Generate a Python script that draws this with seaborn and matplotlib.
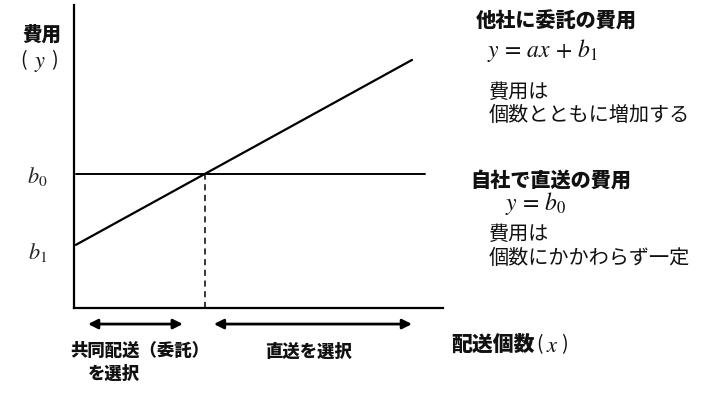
import numpy as np
import pandas as pd
import matplotlib
matplotlib.use("Agg")
import matplotlib.pyplot as plt
import seaborn as sns

# model of the two cost lines (arbitrary units)
slope_a = 0.67
b0 = 4.42
b1 = 2.05
x_commission = [0.05, 9.16]   # 他社に委託: y = ax + b1
x_direct = [0.05, 9.51]       # 自社で直送: y = b0

# choice ranges under the x-axis
left_range = [0.38, 2.95]
right_range = [3.79, 9.16]

sns.set_theme(style="white")
plt.rcParams['font.family'] = ['Noto Sans CJK JP', 'DejaVu Sans']
plt.rcParams['mathtext.fontset'] = 'stix'

commission = pd.DataFrame({'x': x_commission,
                           'y': [slope_a * v + b1 for v in x_commission]})
direct = pd.DataFrame({'x': x_direct, 'y': [b0, b0]})
x_cross = (b0 - b1) / slope_a

W, H = 710, 401
fig = plt.figure(figsize=(W / 100, H / 100), dpi=100)
ax = fig.add_axes([74 / W, 93 / H, 369 / W, 303 / H])

sns.lineplot(data=commission, x='x', y='y', ax=ax, color='black', linewidth=1.6)
sns.lineplot(data=direct, x='x', y='y', ax=ax, color='black', linewidth=1.4)
ax.plot([x_cross, x_cross], [0, b0], color='black', linewidth=1.1, linestyle=(0, (4, 3)))

ax.set_xlim(0, 10)
ax.set_ylim(0, 10)
ax.set_xlabel('')
ax.set_ylabel('')
ax.set_xticks([])
ax.set_yticks([b0, b1 - 0.15])
ax.set_yticklabels(['$b_0$', '$b_1$'], fontsize=16)
ax.tick_params(axis='y', length=0, pad=19)
for side in ['top', 'right']:
    ax.spines[side].set_visible(False)
for side in ['left', 'bottom']:
    ax.spines[side].set_color('black')
    ax.spines[side].set_linewidth(1.6)

# double arrows below the x-axis
trans = ax.get_xaxis_transform()
for rng in [left_range, right_range]:
    ax.annotate('', xy=(rng[0], -0.053), xytext=(rng[1], -0.053), xycoords=trans,
                textcoords=trans, annotation_clip=False,
                arrowprops=dict(arrowstyle='<|-|>', color='black', lw=2,
                                mutation_scale=14, shrinkA=0, shrinkB=0))


def ftext(px, py, s, **kw):
    fig.text(px / W, 1 - py / H, s, va='center', color='#111111', **kw)


ftext(22, 35, '費用', fontsize=14, fontweight='heavy')
ftext(20, 61, '(', fontsize=14)
ftext(34, 62, '$y$', fontsize=16)
ftext(51, 61, ')', fontsize=14)

ftext(70, 351, '共同配送（委託）', fontsize=12.5, fontweight='heavy')
ftext(88, 374, 'を選択', fontsize=12.5, fontweight='heavy')
ftext(265, 352, '直送を選択', fontsize=12.5, fontweight='heavy')
ftext(451, 345, '配送個数', fontsize=15, fontweight='heavy')
ftext(536, 345, '(', fontsize=14)
ftext(546, 346, '$x$', fontsize=16)
ftext(561, 345, ')', fontsize=14)

ftext(476, 22, '他社に委託の費用', fontsize=14.5, fontweight='heavy')
ftext(487, 51, r'$y\,=\,ax\,+\,b_1$', fontsize=17)
ftext(489, 92, '費用は', fontsize=14.5)
ftext(489, 115, '個数とともに増加する', fontsize=14.5)

ftext(470, 181, '自社で直送の費用', fontsize=14.5, fontweight='heavy')
ftext(505, 204, r'$y\,=\,b_0$', fontsize=17)
ftext(489, 234, '費用は', fontsize=14.5)
ftext(489, 258, '個数にかかわらず一定', fontsize=14.5)

fig.savefig('out.png', dpi=100, facecolor='white')
